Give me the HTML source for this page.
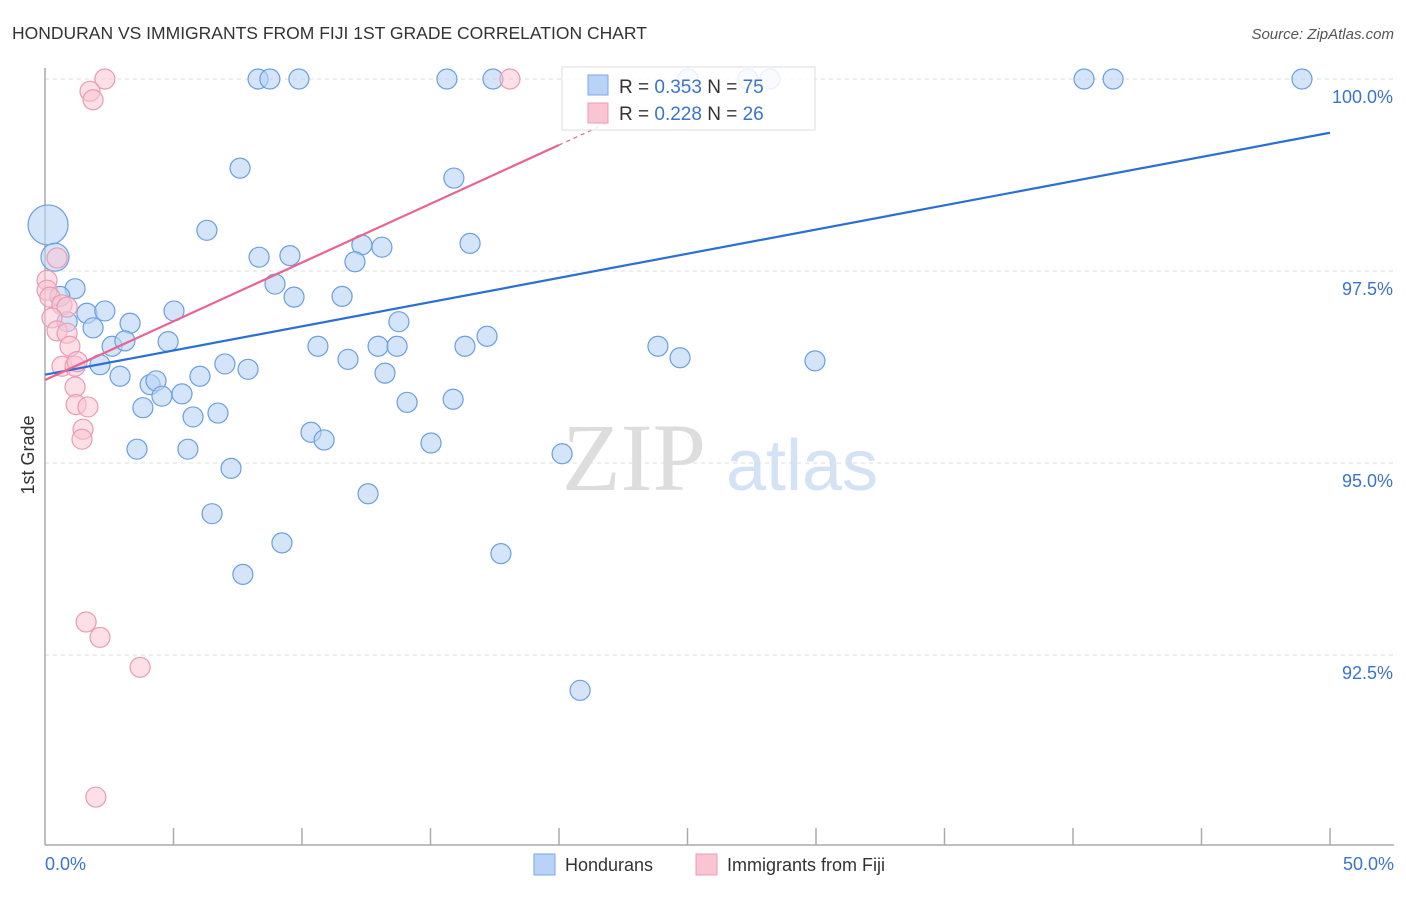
<!DOCTYPE html>
<html><head><meta charset="utf-8"><style>
body{margin:0;background:#fff;font-family:"Liberation Sans",sans-serif}
svg text{font-family:"Liberation Sans",sans-serif}
</style></head><body>
<svg width="1406" height="892" viewBox="0 0 1406 892" xmlns="http://www.w3.org/2000/svg">
<text x="12" y="39" font-size="17.5" fill="#333">HONDURAN VS IMMIGRANTS FROM FIJI 1ST GRADE CORRELATION CHART</text>
<text x="1394" y="39" font-size="15" fill="#555" font-style="italic" text-anchor="end">Source: ZipAtlas.com</text>
<g>
<text x="634" y="490" font-size="96" fill="#ddd" text-anchor="middle" font-family="Liberation Serif, serif" style="font-family:'Liberation Serif',serif">ZIP</text>
<text x="802" y="490" font-size="72" fill="#d3e2f5" text-anchor="middle">atlas</text>
</g>
<g id="grid"></g>
<g id="axes"></g>
<g id="marks"></g>
<g>
<rect x="562" y="67" width="253" height="63" fill="#fff" fill-opacity="0.85" stroke="#ddd"/>
<rect x="588" y="75" width="20" height="20" fill="#b8d3f5" stroke="#7aa8e6"/>
<rect x="588" y="103" width="20" height="20" fill="#fac5d3" stroke="#ec9bb4"/>
<text x="619" y="93" font-size="19" fill="#333">R = <tspan fill="#3b73d1">0.353</tspan>   N = <tspan fill="#3b73d1">75</tspan></text>
<text x="619" y="120" font-size="19" fill="#333">R = <tspan fill="#3b73d1">0.228</tspan>   N = <tspan fill="#3b73d1">26</tspan></text>
</g>
<g>
<rect x="534" y="854" width="21" height="21" fill="#b8d3f5" stroke="#7aa8e6"/>
<text x="565" y="871" font-size="18" fill="#333">Hondurans</text>
<rect x="696" y="854" width="21" height="21" fill="#fac5d3" stroke="#ec9bb4"/>
<text x="727" y="871" font-size="18" fill="#333">Immigrants from Fiji</text>
</g>
<text transform="translate(34,455) rotate(-90)" font-size="18" fill="#333" text-anchor="middle">1st Grade</text>
</svg>
<script>
const yTicks=[100,97.5,95,92.5];
const yTickLabels=["100.0%","97.5%","95.0%","92.5%"];
const hondX=[8.29,8.75,9.88,15.64,17.43,25.02,27.35,28.21,40.43,41.56,48.91,0.12,0.39,7.59,15.91,6.30,8.33,9.53,12.33,13.11,16.54,12.06,8.95,9.69,11.56,1.17,0.58,1.63,2.33,3.31,1.87,0.86,5.02,2.61,3.11,4.79,13.77,17.20,10.62,11.79,12.96,13.70,16.34,23.85,24.71,29.96,2.14,2.92,6.03,7.00,7.90,13.23,4.09,4.32,5.33,4.55,3.81,5.76,6.73,14.09,15.88,10.35,10.86,15.02,3.58,5.56,20.12,7.24,12.57,6.50,9.22,17.74,7.70,20.82];
const hondY=[100,100,100,100,100,100,100,100,100,100,100,98.10,97.68,98.84,98.71,98.03,97.68,97.70,97.84,97.81,97.86,97.62,97.33,97.16,97.17,97.27,97.17,96.95,96.98,96.82,96.76,96.84,96.98,96.52,96.59,96.58,96.84,96.65,96.52,96.35,96.52,96.52,96.52,96.52,96.37,96.33,96.28,96.13,96.13,96.29,96.22,96.17,96.02,96.07,95.90,95.87,95.72,95.60,95.65,95.79,95.83,95.40,95.30,95.26,95.18,95.18,95.12,94.93,94.60,94.34,93.96,93.82,93.55,92.04];
const hondSize=[1,1,1,1,1,1,1,1,1,1,1,2,1.4,1,1,1,1,1,1,1,1,1,1,1,1,1,1,1,1,1,1,1,1,1,1,1,1,1,1,1,1,1,1,1,1,1,1,1,1,1,1,1,1,1,1,1,1,1,1,1,1,1,1,1,1,1,1,1,1,1,1,1,1,1];
const fijiX=[2.33,18.09,1.75,1.87,0.08,0.47,0.08,0.19,0.66,0.86,0.27,0.47,0.86,0.97,0.66,1.17,1.25,1.17,1.21,1.67,1.48,1.44,1.60,2.14,3.70,1.98];
const fijiY=[100,100,99.84,99.73,97.38,97.67,97.25,97.16,97.06,97.03,96.89,96.72,96.69,96.52,96.26,96.26,96.32,95.99,95.76,95.73,95.44,95.31,92.93,92.73,92.34,90.65];
const hondTrend=[96.15,99.30];
const fijiTrend=[96.08,99.14];
const NS="http://www.w3.org/2000/svg";
const X=v=>45+v/50*1285;
const Y=v=>79+(100-v)*76.8;
function mk(tag,attrs,parent){const e=document.createElementNS(NS,tag);for(const k in attrs)e.setAttribute(k,attrs[k]);document.getElementById(parent).appendChild(e);return e;}
yTicks.forEach((t,i)=>{
 const l=mk('line',{x1:45,x2:1394,y1:Y(t),y2:Y(t),stroke:'#ddd','stroke-dasharray':'4,4'},'grid');
 
 
 const tx=mk('text',{x:1393,y:Y(t)+24,'font-size':18,fill:'#3b73d1','text-anchor':'end'},'grid');
 tx.textContent=yTickLabels[i];
 
 
});
const ax=mk('line',{x1:45,x2:45,y1:68,y2:845,stroke:'#aaa','stroke-width':1.5},'axes');


const bx=mk('line',{x1:45,x2:1394,y1:845,y2:845,stroke:'#aaa','stroke-width':1.5},'axes');


for(let i=1;i<=10;i++){const t=mk('line',{x1:X(i*5),x2:X(i*5),y1:828,y2:845,stroke:'#aaa','stroke-width':1.5},'axes');
 
 }
const l0=mk('text',{x:45,y:870,'font-size':18,fill:'#3b73d1'},'axes');l0.textContent='0.0%';


const l1=mk('text',{x:1394,y:870,'font-size':18,fill:'#3b73d1','text-anchor':'end'},'axes');l1.textContent='50.0%';


hondX.forEach((x,i)=>{const c=mk('circle',{cx:X(x),cy:Y(hondY[i]),r:10*hondSize[i],fill:'#b8d3f5','fill-opacity':0.6,stroke:'#6b9ee0','stroke-width':1.2},'marks');
 
 });
fijiX.forEach((x,i)=>{const c=mk('circle',{cx:X(x),cy:Y(fijiY[i]),r:10,fill:'#fac5d3','fill-opacity':0.55,stroke:'#eb9ab3','stroke-width':1.2},'marks');
 
 });
const bl=mk('line',{x1:X(0),y1:Y(hondTrend[0]),x2:X(50),y2:Y(hondTrend[1]),stroke:'#2a6fd6','stroke-width':2.2},'marks');


const fs=(fijiTrend[1]-fijiTrend[0])/20;
const pl=mk('line',{x1:X(0),y1:Y(fijiTrend[0]),x2:X(20),y2:Y(fijiTrend[1]),stroke:'#e8648f','stroke-width':2.2},'marks');


const pd=mk('line',{x1:X(20),y1:Y(fijiTrend[1]),x2:X(22),y2:Y(fijiTrend[1]+fs*2),stroke:'#e8648f','stroke-width':1.2,'stroke-dasharray':'4,4'},'marks');


</script>
</body></html>
